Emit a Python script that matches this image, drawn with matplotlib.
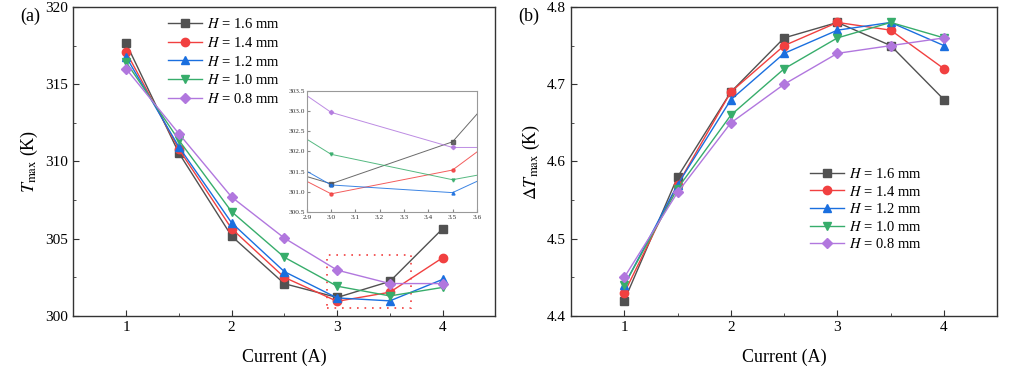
import matplotlib
matplotlib.use("Agg")
import matplotlib.pyplot as plt
from matplotlib.patches import Rectangle
from matplotlib.ticker import MultipleLocator, FormatStrFormatter

plt.rcParams['font.family'] = ['Liberation Serif', 'DejaVu Serif']
plt.rcParams['mathtext.fontset'] = 'stix'

current = [1.0, 1.5, 2.0, 2.5, 3.0, 3.5, 4.0]
labels = ['1.6', '1.4', '1.2', '1.0', '0.8']

tmax_16 = [317.65, 310.55, 305.17, 302.09, 301.20, 302.24, 305.65]
tmax_14 = [317.09, 310.80, 305.65, 302.50, 300.95, 301.54, 303.77]
tmax_12 = [316.77, 310.95, 306.03, 302.87, 301.17, 300.98, 302.37]
tmax_10 = [316.44, 311.38, 306.75, 303.80, 301.93, 301.30, 301.85]
tmax_08 = [316.00, 311.80, 307.70, 305.04, 302.97, 302.10, 302.10]

dt_16 = [4.42, 4.58, 4.69, 4.76, 4.78, 4.75, 4.68]
dt_14 = [4.43, 4.57, 4.69, 4.75, 4.78, 4.77, 4.72]
dt_12 = [4.44, 4.57, 4.68, 4.74, 4.77, 4.78, 4.75]
dt_10 = [4.44, 4.565, 4.66, 4.72, 4.76, 4.78, 4.76]
dt_08 = [4.45, 4.56, 4.65, 4.70, 4.74, 4.75, 4.76]

tmax_series = [tmax_16, tmax_14, tmax_12, tmax_10, tmax_08]
dt_series = [dt_16, dt_14, dt_12, dt_10, dt_08]

colors = ['#515151', '#F14040', '#1A6FDF', '#37AD6B', '#B177DE']
markers = ['s', 'o', '^', 'v', 'D']
msizes = [5.5, 6, 6, 6, 5]

fig = plt.figure(figsize=(10.16, 3.66), dpi=100)
axL = fig.add_axes([0.0722, 0.1366, 0.4154, 0.8443])
axR = fig.add_axes([0.562, 0.1366, 0.4196, 0.8443])


def style(ax):
    for s in ax.spines.values():
        s.set_color('#333333')
        s.set_linewidth(1.0)
    ax.tick_params(which='both', direction='in', top=False, right=False,
                   labelsize=11, colors='#333333', labelcolor='black')
    ax.tick_params(which='major', length=4)
    ax.tick_params(which='minor', length=2.5)
    ax.set_xlim(0.5, 4.5)
    ax.xaxis.set_major_locator(MultipleLocator(1))
    ax.xaxis.set_minor_locator(MultipleLocator(0.5))
    ax.set_xlabel('Current (A)', fontsize=13, labelpad=11)


for ys, c, m, ms, lab in zip(tmax_series, colors, markers, msizes, labels):
    axL.plot(current, ys, color=c, marker=m, ms=ms, lw=1.0,
             label=r'$H$ = ' + lab + ' mm')
style(axL)
axL.set_ylim(300, 320)
axL.yaxis.set_major_locator(MultipleLocator(5))
axL.yaxis.set_minor_locator(MultipleLocator(2.5))
axL.set_ylabel(r'$T_{\rm max}$ (K)', fontsize=13, labelpad=4)
axL.legend(loc='upper left', bbox_to_anchor=(0.2, 1.0), frameon=False,
           fontsize=10.5, handlelength=2.3, handletextpad=0.4,
           labelspacing=0.32, borderaxespad=0.3)
axL.add_patch(Rectangle((2.9, 300.5), 0.8, 3.45, fill=False,
                        edgecolor='#F14040', lw=1.2, ls=(0, (1, 3.5))))

for ys, c, m, ms, lab in zip(dt_series, colors, markers, msizes, labels):
    axR.plot(current, ys, color=c, marker=m, ms=ms, lw=1.0,
             label=r'$H$ = ' + lab + ' mm')
style(axR)
axR.set_ylim(4.4, 4.8)
axR.yaxis.set_major_locator(MultipleLocator(0.1))
axR.yaxis.set_minor_locator(MultipleLocator(0.05))
axR.yaxis.set_major_formatter(FormatStrFormatter('%.1f'))
axR.set_ylabel(r'$\Delta T_{\rm max}$ (K)', fontsize=13, labelpad=4)
axR.legend(loc='upper left', bbox_to_anchor=(0.53, 0.525), frameon=False,
           fontsize=10.5, handlelength=2.3, handletextpad=0.4,
           labelspacing=0.25)

# inset
axI = fig.add_axes([0.302, 0.4208, 0.1673, 0.3306])
for ys, c, m in zip(tmax_series, colors, markers):
    axI.plot(current, ys, color=c, marker=m, ms=2.2, lw=0.7, alpha=0.85)
axI.set_xlim(2.9, 3.6)
axI.set_ylim(300.5, 303.5)
axI.xaxis.set_major_locator(MultipleLocator(0.1))
axI.yaxis.set_major_locator(MultipleLocator(0.5))
axI.xaxis.set_major_formatter(FormatStrFormatter('%.1f'))
axI.yaxis.set_major_formatter(FormatStrFormatter('%.1f'))
axI.tick_params(direction='in', labelsize=5.3, length=2, pad=1.5,
                colors='#888888', labelcolor='#333333')
axI.tick_params(axis='x', pad=2.5)
for s in axI.spines.values():
    s.set_color('#999999')
    s.set_linewidth(0.8)

fig.text(0.02, 0.955, '(a)', fontsize=13, ha='left', va='center')
fig.text(0.51, 0.955, '(b)', fontsize=13, ha='left', va='center')

fig.savefig('out.png', dpi=100)
